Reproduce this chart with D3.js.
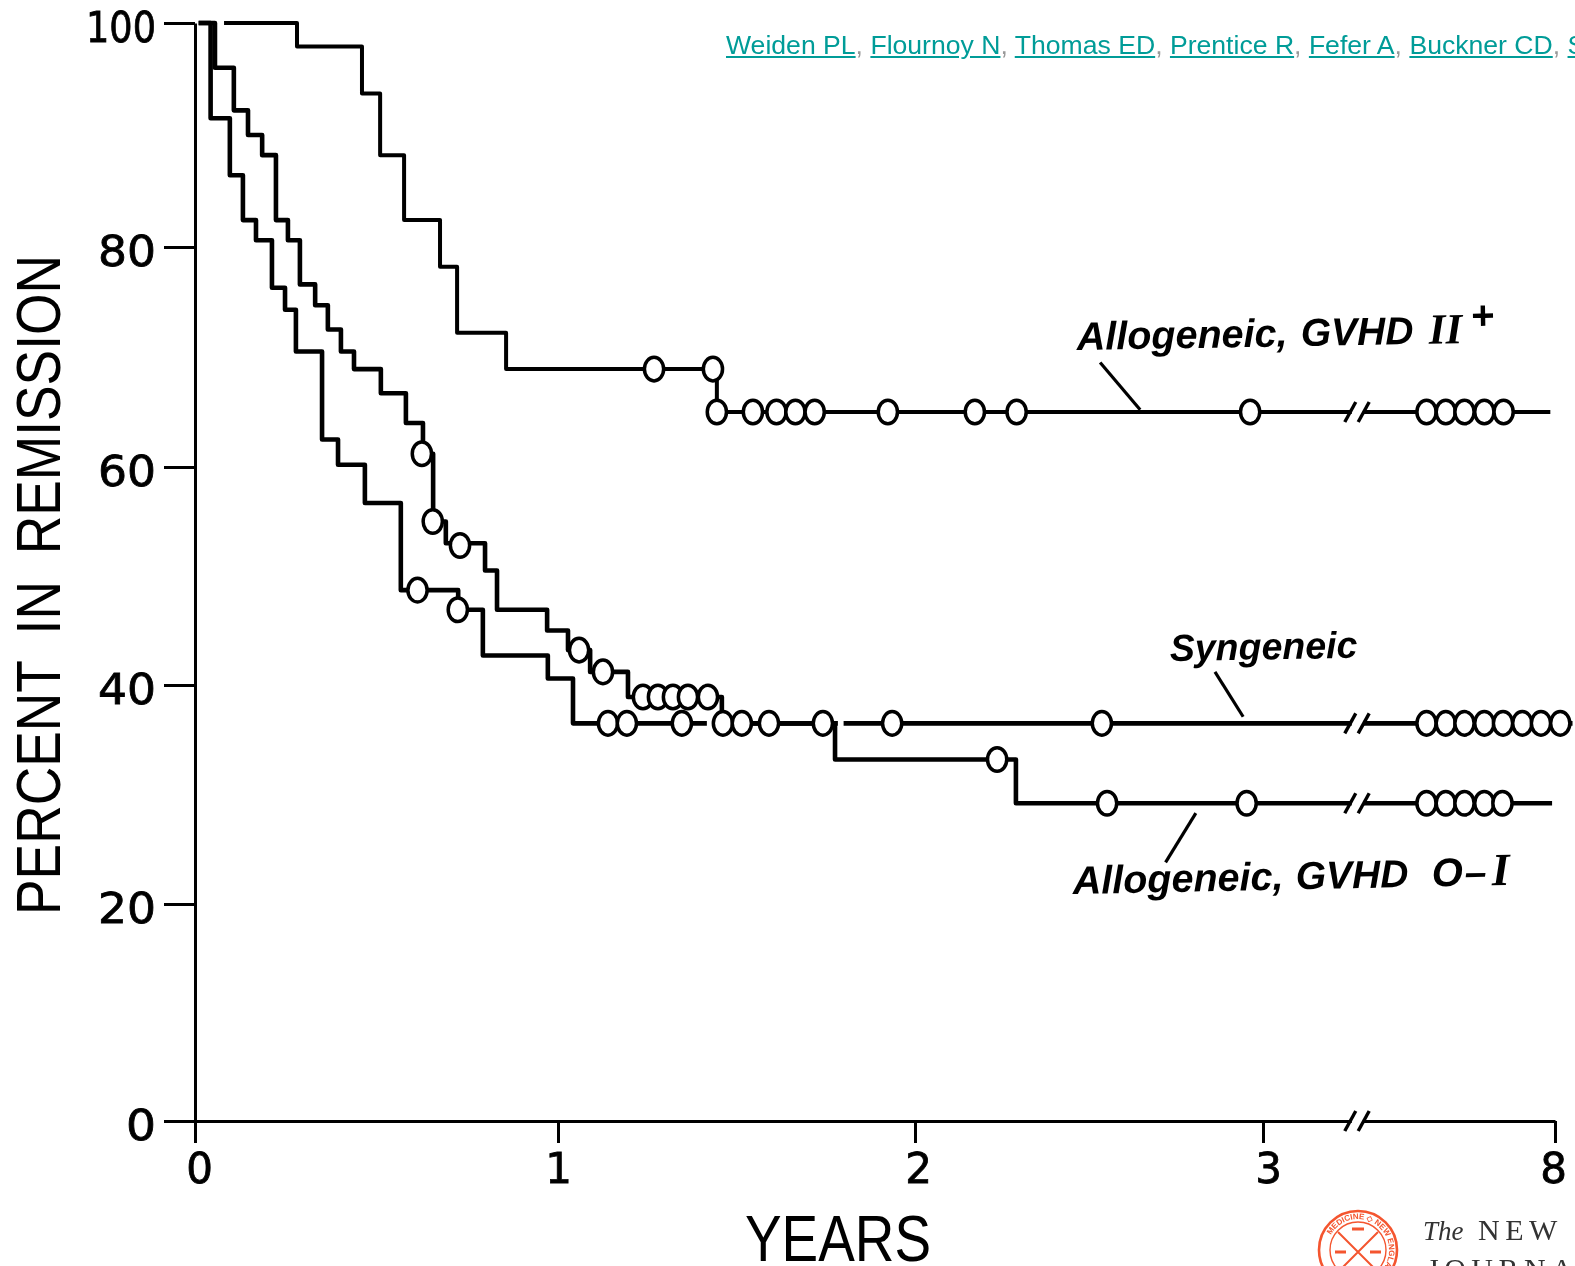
<!DOCTYPE html>
<html><head><meta charset="utf-8">
<script src="https://cdn.jsdelivr.net/npm/d3@7"></script>
<style>
html,body{margin:0;padding:0;background:#fff;overflow:hidden;width:1575px;height:1266px}
#cite{position:absolute;left:726px;top:30px;font:26.6px "Liberation Sans",sans-serif;white-space:nowrap;color:#999}
#cite a{color:#009c98;text-decoration:underline}
svg{position:absolute;left:0;top:0}
</style></head><body>
<svg id="c" width="1575" height="1266"></svg>
<div id="cite"></div>
<script>
// ---- axes
const yTicks=[0,20,40,60,80,100];
const xTicks=[0,1,2,3,8];
// ---- step curves: time of each step (years) and level reached (percent)
const topYears=[0.08,0.281,0.460,0.510,0.576,0.675,0.722,0.857,1.445,7.92];
const topPct=[100,97.9,93.7,88.2,82.4,78.2,72.2,68.9,65.0,65.0];
const synYears=[0.01,0.055,0.107,0.146,0.185,0.223,0.256,0.289,0.331,0.366,0.402,0.438,0.512,0.581,0.628,0.656,0.691,0.799,0.832,0.970,1.028,1.09,1.196,1.459,8.3];
const synPct=[100,96.0,92.2,90.0,88.2,82.4,80.6,76.6,74.7,72.5,70.5,68.9,66.7,64.0,61.2,55.0,53.0,50.5,46.9,45.0,43.2,41.2,38.9,36.5,36.5];
const lowYears=[0.01,0.043,0.096,0.132,0.168,0.212,0.248,0.278,0.350,0.394,0.468,0.567,0.725,0.793,0.972,1.042,1.776,2.29,7.95];
const lowPct=[100,91.5,86.4,82.4,80.6,76.3,74.3,70.5,62.5,60.2,56.7,48.7,46.9,42.7,40.6,36.5,33.2,29.2,29.2];
// ---- censored patients
const topCensor=[[1.269,68.9],[1.434,68.9],[1.445,65],[1.546,65],[1.612,65],[1.665,65],[1.719,65],[1.924,65],[2.172,65],[2.292,65],[2.963,65],[5.80,65],[6.13,65],[6.45,65],[6.79,65],[7.12,65]];
const synCensor=[[0.625,61.2],[0.655,55.0],[0.73,52.8],[1.059,43.2],[1.126,41.2],[1.238,38.9],[1.28,38.9],[1.322,38.9],[1.364,38.9],[1.42,38.9],[2.537,36.5],[5.80,36.5],[6.13,36.5],[6.45,36.5],[6.79,36.5],[7.11,36.5],[7.44,36.5],[7.76,36.5],[8.09,36.5]];
const lowCensor=[[0.613,48.7],[0.724,46.9],[1.14,36.5],[1.193,36.5],[1.347,36.5],[1.462,36.5],[1.515,36.5],[1.591,36.5],[1.742,36.5],[1.936,36.5],[2.236,33.2],[2.552,29.2],[2.953,29.2],[5.80,29.2],[6.13,29.2],[6.45,29.2],[6.79,29.2],[7.1,29.2]];
// ---- interruptions in the printed lines [from year, to year, percent]
const lineGaps=[[1.417,1.435,36.5],[1.784,1.80,36.5]];
const breakYears=[4.40,4.63];
const breakPct=[65,36.5,29.2,0];
// ---- labels and leader lines
const leaders=[[[2.532,69.5],[2.647,65.2]],[[2.862,41.2],[2.943,37.1]],[[2.807,28.3],[2.72,23.8]]];
const citeNames=["Weiden PL","Flournoy N","Thomas ED","Prentice R","Fefer A","Buckner CD","Storb R"];

const x=d3.scaleLinear().domain(xTicks).range([195,558,915,1263,1555]);
const y=d3.scaleLinear().domain(yTicks).range([1121,904,685,467,247,23]);
const svg=d3.select("#c");
const defs=svg.append("defs");
defs.append("filter").attr("id","scan").attr("x","-5%").attr("y","-5%").attr("width","110%").attr("height","110%")
  .append("feGaussianBlur").attr("stdDeviation",0.55);
const g=svg.append("g").attr("filter","url(#scan)");
const FONT='"Liberation Sans",Arial,sans-serif';

// axes
const ya=g.append("g").attr("transform","translate(195,0)")
  .call(d3.axisLeft(y).tickValues(yTicks).tickSize(31).tickSizeOuter(0).tickPadding(8));
const xa=g.append("g").attr("transform","translate(0,1121)")
  .call(d3.axisBottom(x).tickValues(xTicks).tickSize(22).tickSizeOuter(0).tickPadding(10));
[ya,xa].forEach(a=>{
  a.selectAll("path,line").attr("stroke","#000").attr("stroke-width",3);
  a.selectAll("text").attr("fill","#000").attr("stroke","#000").attr("stroke-width",0.8).attr("font-family",'"DejaVu Sans",sans-serif');
});
ya.selectAll("text").attr("font-size",43).attr("dy","0.42em").attr("textLength",d=>d===100?70:(d===0?30:58)).attr("lengthAdjust","spacingAndGlyphs");
xa.selectAll("text").attr("font-size",42).attr("dx",d=>d===3?5:(d===2?3:(d===8?-2:(d===0?4:0))));

// curves
const line=d3.line().x(d=>x(d[0])).y(d=>y(d[1])).curve(d3.curveStepAfter);
const zip=(a,b)=>a.map((v,i)=>[v,b[i]]);
const curves=[[topYears,topPct,4],[synYears,synPct,4.6],[lowYears,lowPct,4.6]];
g.selectAll("path.curve").data(curves).join("path").attr("class","curve")
  .attr("fill","none").attr("stroke","#000").attr("stroke-width",d=>d[2]).attr("stroke-linejoin","round")
  .attr("d",d=>line(zip(d[0],d[1])));

// white interruptions
g.selectAll("line.gap").data(lineGaps).join("line").attr("class","gap")
  .attr("x1",d=>x(d[0])).attr("x2",d=>x(d[1])).attr("y1",d=>y(d[2])).attr("y2",d=>y(d[2]))
  .attr("stroke","#fff").attr("stroke-width",7);
g.selectAll("line.brk").data(breakPct).join("line").attr("class","brk")
  .attr("x1",x(breakYears[0])+7).attr("x2",x(breakYears[1])+5).attr("y1",d=>y(d)).attr("y2",d=>y(d))
  .attr("stroke","#fff").attr("stroke-width",7);
// break slashes
breakYears.forEach(b=>{
  g.selectAll(null).data(breakPct).join("line")
    .attr("x1",x(b)).attr("x2",x(b)+11).attr("y1",d=>y(d)+10).attr("y2",d=>y(d)-10)
    .attr("stroke","#000").attr("stroke-width",3.4);
});

// censoring marks
g.selectAll("ellipse").data([...topCensor,...synCensor,...lowCensor]).join("ellipse")
  .attr("cx",d=>x(d[0])).attr("cy",d=>y(d[1])).attr("rx",9.6).attr("ry",11.8)
  .attr("fill","#fff").attr("stroke","#000").attr("stroke-width",3.5);

// leaders
g.selectAll("path.lead").data(leaders).join("path").attr("class","lead")
  .attr("d",d3.line().x(d=>x(d[0])).y(d=>y(d[1]))).attr("fill","none").attr("stroke","#000").attr("stroke-width",3.2);

// axis titles
g.append("text").attr("transform","translate(60,915) rotate(-90)").attr("font-family",FONT).attr("font-size",63)
  .attr("word-spacing",14).attr("textLength",660).attr("lengthAdjust","spacingAndGlyphs").text("PERCENT IN REMISSION");
g.append("text").attr("x",745).attr("y",1261).attr("font-family",FONT).attr("font-size",64)
  .attr("textLength",186).attr("lengthAdjust","spacingAndGlyphs").text("YEARS");

// annotations
function ann(px,py,rot,parts){
  const t=g.append("g").attr("transform",`translate(${px},${py}) rotate(${rot})`);
  parts.forEach(p=>t.append("text").attr("x",p[1]).attr("y",p[3]||0)
    .attr("font-family",p[4]||FONT).attr("font-weight","bold").attr("font-style","italic").attr("font-size",p[2]).text(p[0]));
}
const SER='"Liberation Serif",serif';
ann(1077,350,-1,[["Allogeneic,",0,39.5],["GVHD",224,39],["II",352,43,0,SER],["+",394,40,-14]]);
ann(1170,661,-1,[["Syngeneic",0,37.5]]);
ann(1073,894,-1.2,[["Allogeneic,",0,39.5],["GVHD",223,39],["O",359,40],["–",392,39],["I",419,46,0,SER]]);

// citation
const cite=d3.select("#cite");
citeNames.forEach((n,i)=>{
  cite.append("a").attr("href","#").text(n);
  if(i<citeNames.length-1) cite.append("span").text(", ");
});

// journal seal and name
const RED="#f4552f";
const s=svg.append("g").attr("transform","translate(1358,1250)").attr("stroke",RED).attr("fill","none");
s.append("circle").attr("r",39).attr("stroke-width",2.6);
s.append("circle").attr("r",28).attr("stroke-width",1.4);
defs.append("path").attr("id","ring").attr("d","M-31,0A31,31 0 1 1 31,0A31,31 0 1 1 -31,0");
s.append("text").attr("fill",RED).attr("stroke","none").attr("font-size",8).attr("font-family",FONT).attr("font-weight","bold")
  .append("textPath").attr("href","#ring").attr("startOffset","8%").text("MEDICINE ◇ NEW ENGLAND ◇ SOCIETY");
s.append("path").attr("stroke-width",2).attr("d","M-20,-18L18,20M20,-18L-18,20");
s.append("path").attr("stroke-width",3).attr("d","M-6,-21H6M-23,2H-12M12,2H23");
const j=svg.append("g").attr("font-family",SER).attr("fill","#333");
j.append("text").attr("x",1423).attr("y",1240).attr("font-size",27).attr("font-style","italic").text("The");
j.append("text").attr("x",1478).attr("y",1240).attr("font-size",30).attr("letter-spacing",5.5).text("NEW ENGLAND");
j.append("text").attr("x",1427).attr("y",1279).attr("font-size",30).attr("letter-spacing",5.5).text("JOURNAL of MEDICINE");
</script>
</body></html>
